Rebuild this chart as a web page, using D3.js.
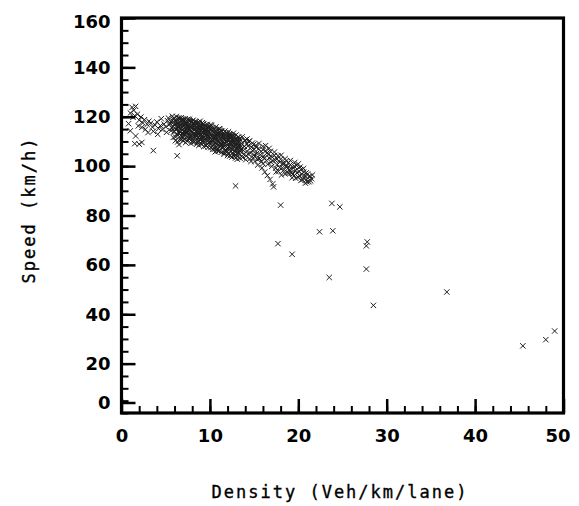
<!DOCTYPE html>
<html>
<head>
<meta charset="utf-8">
<script src="https://cdn.jsdelivr.net/npm/d3@7"></script>
<style>
	body { margin: 0; background: #fff; }
	svg { display: block; }
	.tick text { font-family: "DejaVu Sans", sans-serif; font-weight: bold; font-size: 18px; fill: #000; }
	.title { font-family: "DejaVu Sans Mono", monospace; font-size: 17px; letter-spacing: 2px; fill: #000; stroke: #000; stroke-width: 0.35px; }
</style>
</head>
<body>
<svg id="chart" width="579" height="506"></svg>
<script>
/* Data: density (veh/km/lane), speed (km/h) */
const coreDensity = [
	1.0, 1.2, 1.4, 1.5, 1.3, 1.8, 1.6, 2.0, 2.2, 2.4, 2.6, 2.9, 3.1, 3.3, 3.5, 3.8, 4.0, 4.2, 4.4, 4.6, 4.8, 5.0, 5.2, 5.4, 2.7, 3.0, 3.6, 4.1, 4.5, 1.9, 2.3, 5.1,
	5.6, 5.7, 5.8, 5.9, 6.0, 6.1, 6.2, 6.3, 6.4, 6.5, 5.8, 6.0, 6.2, 6.4, 6.6, 6.1, 6.3, 5.9,
	6.6, 6.7, 6.8, 6.9, 7.0, 7.1, 7.2, 7.3, 7.4, 7.5, 6.7, 6.9, 7.0, 7.2, 7.4, 6.8, 7.1, 7.3, 7.5, 7.0,
	7.6, 7.7, 7.8, 7.9, 8.0, 8.1, 8.2, 8.3, 8.4, 8.5, 7.7, 7.9, 8.0, 8.2, 8.4, 7.6, 8.1, 8.3, 7.8, 8.5,
	8.6, 8.7, 8.8, 8.9, 9.0, 9.1, 9.2, 9.3, 9.4, 9.5, 8.7, 8.9, 9.0, 9.2, 9.4, 8.6, 9.1, 9.3, 8.8, 9.5,
	9.6, 9.7, 9.8, 9.9, 10.0, 10.1, 10.2, 10.3, 10.4, 10.5, 9.7, 9.9, 10.0, 10.2, 10.4, 9.6, 10.1, 10.3, 9.8, 10.5,
	10.6, 10.7, 10.8, 10.9, 11.0, 11.1, 11.2, 11.3, 11.4, 11.5, 10.7, 10.9, 11.0, 11.2, 11.4, 10.6, 11.1, 11.3, 10.8, 11.5,
	11.6, 11.7, 11.8, 11.9, 12.0, 12.1, 12.2, 12.3, 12.4, 12.5, 11.7, 11.9, 12.0, 12.2, 12.4, 11.6, 12.1, 12.3, 11.8, 12.5,
	12.6, 12.7, 12.8, 12.9, 13.0, 13.1, 13.2, 13.3, 13.4, 13.5, 12.7, 12.9, 13.0, 13.2, 13.4, 13.1, 12.8, 13.5,
	13.6, 13.8, 14.0, 14.1, 14.3, 14.4, 14.6, 14.7, 14.9, 15.0, 13.7, 14.2, 14.5, 14.8, 13.9, 15.0, 14.2,
	15.2, 15.3, 15.5, 15.6, 15.8, 16.0, 16.1, 16.3, 16.4, 16.6, 16.7, 16.9, 17.0, 15.4, 15.9, 16.2, 16.5, 16.8, 17.1, 17.2, 15.1, 16.0,
	17.3, 17.4, 17.6, 17.7, 17.9, 18.0, 18.2, 18.3, 18.5, 18.6, 18.8, 18.9, 17.5, 18.1, 18.7, 19.0,
	19.1, 19.2, 19.4, 19.5, 19.7, 19.8, 20.0, 20.1, 20.3, 20.4, 20.6, 20.7, 20.9, 21.0, 21.2, 21.4, 19.6, 20.2, 20.8, 19.3,
	6.05, 6.15, 6.25, 6.35, 6.45, 6.55, 6.65, 6.75, 6.85, 6.95, 7.05, 7.15, 7.25, 7.35, 7.45,
	7.55, 7.65, 7.75, 7.85, 7.95, 8.05, 8.15, 8.25, 8.35, 8.45, 8.55, 8.65, 8.75, 8.85, 8.95,
	9.05, 9.15, 9.25, 9.35, 9.45, 9.55, 9.65, 9.75, 9.85, 9.95, 10.05, 10.15, 10.25, 10.35, 10.45,
	10.55, 10.65, 10.75, 10.85, 10.95, 11.05, 11.15, 11.25, 11.35, 11.45, 11.55, 11.65, 11.75, 11.85, 11.95,
	12.05, 12.15, 12.25, 12.35, 12.45, 12.55, 12.65, 12.75, 12.85, 12.95, 13.05, 13.15, 13.25, 13.35, 13.45,
	5.3, 5.5, 5.6, 5.75, 5.85, 6.0, 6.1, 6.2, 6.35, 6.5, 6.6, 6.75, 6.85, 7.0, 7.15, 7.25, 7.4, 7.5,
	7.6, 7.7, 7.85, 8.0, 8.1, 8.25, 8.4, 8.5, 8.6, 8.75, 8.9, 9.0, 9.15, 9.3, 9.4, 9.55, 9.7, 9.8, 9.95, 10.1,
	10.2, 10.3, 10.45, 10.6, 10.7, 10.85, 11.0, 11.15, 11.3, 11.4, 11.6, 11.7, 11.85, 12.0, 12.1, 12.25, 12.4, 12.5, 12.65, 12.8, 12.95, 13.1, 13.25, 13.4,
	13.55, 13.65, 13.8, 13.95, 14.05, 14.2, 14.35, 14.5, 14.65, 14.8, 14.95, 15.1, 15.25, 15.4, 15.55, 15.7, 15.85, 16.0, 16.15, 16.3,
	16.45, 16.55, 16.7, 16.85, 17.0, 17.15, 17.3, 17.45, 17.6, 17.75, 17.9, 18.05, 18.2, 18.35, 18.5, 18.65, 18.8, 18.95,
	19.1, 19.25, 19.4, 19.55, 19.7, 19.85, 20.0, 20.15, 20.3, 20.45, 20.6, 20.75, 20.9, 21.05, 21.2, 21.35, 21.5, 21.6,
	6.5, 6.7, 6.9, 7.1, 7.3, 7.5, 7.7, 7.9, 8.1, 8.3, 8.5, 8.7, 8.9, 9.1, 9.3, 9.5, 9.7, 9.9, 10.1, 10.3, 10.5, 10.7, 10.9, 11.1, 11.3, 11.5, 11.7, 11.9, 12.1, 12.3, 12.5, 12.7, 12.9, 13.1, 13.3, 13.5,
	6.6, 6.8, 7.0, 7.2, 7.4, 7.6, 7.8, 8.0, 8.2, 8.4, 8.6, 8.8, 9.0, 9.2, 9.4, 9.6, 9.8, 10.0, 10.2, 10.4, 10.6, 10.8, 11.0, 11.2, 11.4, 11.6, 11.8, 12.0, 12.2, 12.4, 12.6, 12.8, 13.0, 13.2
];
const coreSpeed = [
	121.5, 123.8, 122.6, 120.4, 119.8, 121.0, 124.2, 118.6, 119.9, 117.5, 118.8, 116.9, 118.2, 117.4, 115.8, 116.6, 117.9, 115.2, 116.4, 114.8, 117.0, 115.9, 118.4, 116.8, 114.9, 113.6, 114.1, 112.9, 119.2, 116.3, 115.7, 113.7,
	117.9, 115.4, 119.1, 113.8, 116.7, 118.6, 114.9, 117.3, 112.6, 119.6, 116.2, 114.1, 120.1, 116.0, 113.9, 111.8, 115.5, 118.0,
	117.8, 115.1, 119.0, 113.2, 116.6, 118.3, 114.4, 117.1, 111.9, 115.8, 112.4, 117.4, 114.0, 119.2, 116.2, 110.8, 112.9, 115.0, 113.5, 118.9,
	117.6, 114.6, 116.2, 112.3, 118.1, 115.0, 113.4, 116.8, 111.5, 114.3, 110.9, 117.9, 113.8, 117.2, 115.6, 113.1, 110.4, 112.7, 115.5, 117.0,
	115.3, 112.8, 117.4, 110.9, 114.6, 116.5, 112.0, 115.1, 109.8, 113.7, 116.2, 114.0, 111.3, 116.9, 113.2, 109.6, 108.8, 111.7, 113.5, 116.1,
	114.4, 111.6, 116.0, 109.4, 113.3, 115.4, 110.8, 113.9, 108.6, 112.2, 113.0, 115.7, 110.1, 114.8, 111.4, 108.3, 107.5, 110.3, 112.1, 114.6,
	113.2, 110.5, 114.8, 108.3, 112.0, 114.0, 109.4, 112.7, 107.4, 110.9, 107.9, 113.4, 109.8, 113.6, 110.2, 106.9, 106.3, 108.8, 111.6, 113.2,
	111.9, 109.2, 113.5, 107.1, 110.7, 112.7, 108.1, 111.4, 106.0, 109.5, 106.4, 112.2, 108.4, 111.9, 108.9, 105.4, 105.0, 107.3, 110.2, 112.0,
	110.6, 107.9, 112.1, 105.7, 109.5, 111.4, 106.8, 110.0, 104.7, 108.2, 104.9, 110.9, 107.1, 109.6, 107.3, 103.9, 108.9, 110.4,
	109.2, 106.4, 110.6, 104.2, 108.1, 109.9, 105.3, 107.6, 103.4, 106.8, 103.5, 106.0, 102.9, 109.3, 108.0, 104.6, 111.0,
	108.4, 105.2, 107.0, 103.1, 105.9, 108.0, 104.0, 106.2, 102.2, 104.7, 107.2, 101.6, 103.8, 100.4, 99.3, 97.6, 96.2, 94.6, 92.8, 91.6, 101.9, 101.0,
	105.7, 102.4, 100.6, 104.2, 99.4, 102.8, 101.0, 98.2, 103.0, 99.8, 97.3, 101.4, 97.7, 96.4, 100.2, 98.6,
	100.6, 97.2, 99.4, 96.0, 98.3, 100.3, 95.5, 97.8, 94.2, 96.7, 99.0, 95.1, 97.3, 93.6, 95.8, 94.0, 101.5, 99.6, 93.1, 95.3,
	115.3, 117.0, 113.0, 118.9, 115.6, 114.2, 116.9, 118.4, 114.7, 116.1, 112.2, 117.5, 115.9, 113.6, 118.1,
	116.5, 112.1, 118.3, 114.1, 115.3, 116.9, 112.9, 114.8, 117.7, 113.0, 115.9, 111.4, 114.9, 116.1, 112.4,
	115.7, 113.6, 110.4, 114.2, 116.6, 111.1, 115.3, 112.8, 114.1, 110.9, 116.2, 112.6, 109.9, 115.6, 111.7,
	109.3, 114.4, 111.8, 112.9, 110.1, 115.1, 111.2, 108.5, 114.0, 109.7, 112.6, 108.0, 111.5, 109.9, 113.1,
	107.3, 110.5, 113.0, 109.1, 110.8, 106.8, 112.2, 109.5, 106.2, 108.4, 110.6, 105.5, 108.3, 111.2, 106.0,
	119.5, 117.2, 114.3, 120.2, 111.6, 119.4, 110.3, 117.9, 109.8, 116.4, 110.9, 119.6, 112.0, 110.2, 113.9, 109.5, 117.7, 110.6,
	111.4, 119.0, 109.2, 111.1, 118.6, 109.9, 117.9, 108.9, 113.9, 108.4, 118.2, 109.1, 117.6, 107.9, 114.9, 108.2, 116.9, 107.6, 111.9, 109.2,
	116.4, 106.9, 113.6, 105.8, 115.9, 107.0, 106.1, 114.9, 105.6, 112.3, 104.8, 114.2, 106.4, 104.3, 113.9, 104.1, 111.9, 103.7, 113.3, 104.0, 112.6, 102.8, 111.8, 103.2,
	107.1, 111.9, 104.8, 110.2, 102.6, 108.9, 104.9, 110.3, 101.9, 106.3, 108.8, 103.9, 107.6, 102.7, 109.2, 104.6, 101.8, 106.7, 103.2, 108.3,
	105.3, 100.7, 103.3, 106.0, 99.9, 102.2, 104.3, 99.2, 102.9, 97.9, 101.6, 104.4, 99.3, 100.9, 96.9, 102.1, 99.0, 97.1,
	102.3, 98.8, 96.8, 99.9, 95.1, 97.3, 100.9, 96.2, 98.6, 94.6, 97.6, 96.1, 94.4, 96.8, 93.7, 95.9, 94.9, 96.4,
	113.4, 116.4, 118.7, 111.0, 113.8, 119.0, 113.7, 116.6, 109.6, 118.0, 112.5, 110.3, 115.6, 110.1, 117.2, 112.4, 109.0, 113.8, 116.8, 108.1, 110.6, 112.9, 106.2, 109.9, 114.3, 107.5, 110.7, 105.6, 109.0, 112.6, 105.2, 109.2, 103.3, 107.9, 105.2, 106.4,
	119.2, 115.9, 113.1, 116.7, 110.1, 115.2, 112.6, 116.1, 111.3, 114.1, 117.7, 111.0, 113.0, 115.0, 110.7, 113.5, 110.4, 115.0, 112.1, 106.9, 111.9, 109.0, 113.0, 107.9, 111.6, 108.8, 106.7, 111.8, 106.8, 110.2, 107.6, 110.6, 105.1, 108.8
];

/* Scattered points away from the main cloud */
const outlierDensity = [1.0, 1.6, 1.5, 2.3, 2.0, 3.6, 0.8, 6.3, 6.5, 12.9, 18.0, 23.8, 24.7, 22.4, 23.9, 17.7, 19.3, 27.8, 27.7, 27.7, 23.5, 28.5, 36.8, 45.4, 48.0, 49.0];
const outlierSpeed = [114.3, 112.2, 109.1, 109.6, 108.9, 106.3, 117.2, 104.2, 108.7, 92.0, 84.2, 84.9, 83.5, 73.4, 73.8, 68.6, 64.3, 69.3, 67.7, 58.3, 54.9, 43.6, 49.0, 27.2, 29.7, 33.2];

const xTicks = [0, 10, 20, 30, 40, 50];
const yTicks = [0, 20, 40, 60, 80, 100, 120, 140, 160];

const points = coreDensity.map((d, i) => ({ x: d, y: coreSpeed[i] }))
	.concat(outlierDensity.map((d, i) => ({ x: d, y: outlierSpeed[i] })));

const svg = d3.select("#chart");
const plot = { left: 121.5, right: 563.5, top: 18, bottom: 413 };

const xScale = d3.scaleLinear().domain([0, 50]).range([plot.left, plot.right]);
const yScale = d3.scaleLinear().domain([0, 160]).range([plot.bottom, plot.top]);

// points first, frame drawn over them
svg.append("g")
	.selectAll("path")
	.data(points)
	.join("path")
	.attr("transform", (d) => `translate(${xScale(d.x)},${yScale(d.y)})`)
	.attr("d", "M-2.7,-2.7L2.7,2.7M-2.7,2.7L2.7,-2.7")
	.attr("fill", "none")
	.attr("stroke", "#1e1e1e")
	.attr("stroke-width", 1);

/* minor ticks */
svg.append("g")
	.attr("transform", `translate(0,${plot.bottom})`)
	.call(d3.axisBottom(xScale).tickValues(d3.range(0, 51, 2)).tickSizeInner(-7).tickSizeOuter(0).tickFormat(""))
	.call((g) => g.select(".domain").remove())
	.call((g) => g.selectAll("line").attr("stroke-width", 2));

svg.append("g")
	.attr("transform", `translate(${plot.left},0)`)
	.call(d3.axisLeft(yScale).tickValues(d3.range(0, 161, 5)).tickSizeInner(-7).tickSizeOuter(0).tickFormat(""))
	.call((g) => g.select(".domain").remove())
	.call((g) => g.selectAll("line").attr("stroke-width", 2));

/* major ticks + labels */
svg.append("g")
	.attr("transform", `translate(0,${plot.bottom})`)
	.call(d3.axisBottom(xScale).tickValues(xTicks).tickSizeInner(-14).tickSizeOuter(0).tickPadding(16))
	.call((g) => g.select(".domain").remove())
	.call((g) => g.selectAll("line").attr("stroke-width", 2.5))
	.call((g) => g.selectAll(".tick").filter((d) => d === 50).select("text").attr("dx", -6));

svg.append("g")
	.attr("transform", `translate(${plot.left},0)`)
	.call(d3.axisLeft(yScale).tickValues(yTicks).tickSizeInner(-14).tickSizeOuter(0).tickPadding(11))
	.call((g) => g.select(".domain").remove())
	.call((g) => g.selectAll("line").attr("stroke-width", 2.5))
	.call((g) => g.selectAll(".tick").filter((d) => d === 0).attr("transform", `translate(0,${yScale(0) - 10})`))
	.call((g) => g.selectAll(".tick").filter((d) => d === 160).select("text").attr("dy", "0.55em"));

svg.selectAll(".tick text").attr("fill", "#000");

// frame
svg.append("rect")
	.attr("x", plot.left)
	.attr("y", plot.top)
	.attr("width", plot.right - plot.left)
	.attr("height", plot.bottom - plot.top)
	.attr("fill", "none")
	.attr("stroke", "#000")
	.attr("stroke-width", 3.2);

svg.append("text")
	.attr("class", "title")
	.attr("x", 340)
	.attr("y", 498)
	.attr("text-anchor", "middle")
	.text("Density (Veh/km/lane)");

svg.append("text")
	.attr("class", "title")
	.attr("transform", "translate(35,210) rotate(-90)")
	.attr("text-anchor", "middle")
	.text("Speed (km/h)");
</script>
</body>
</html>
